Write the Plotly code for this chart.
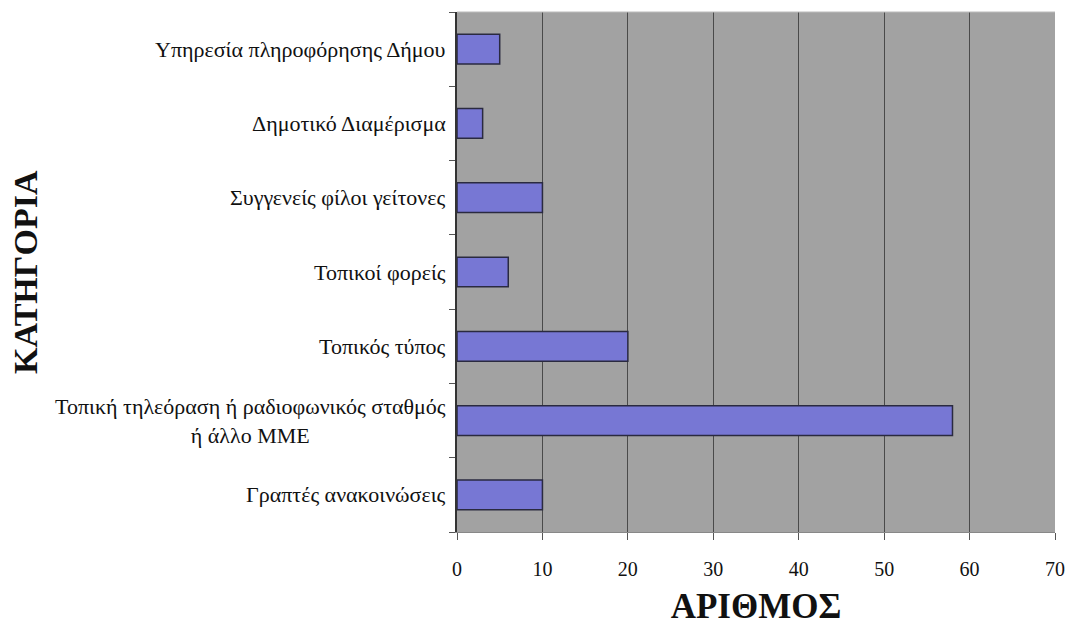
import plotly.graph_objects as go

categories = [
    "Γραπτές ανακοινώσεις",
    "Τοπική τηλεόραση ή ραδιοφωνικός σταθμός<br>ή άλλο ΜΜΕ",
    "Τοπικός τύπος",
    "Τοπικοί φορείς",
    "Συγγενείς φίλοι γείτονες",
    "Δημοτικό Διαμέρισμα",
    "Υπηρεσία πληροφόρησης Δήμου",
]
values = [10, 58, 20, 6, 10, 3, 5]
x_ticks = [0, 10, 20, 30, 40, 50, 60, 70]

FONT = "Liberation Serif, Times New Roman, serif"

fig = go.Figure()
fig.add_trace(go.Bar(
    y=categories, x=values, orientation="h",
    width=0.4,
    marker=dict(color="#7777d4", line=dict(color="#2a2a40", width=1.5)),
))

annotations = []
for c in categories:
    annotations.append(dict(
        x=0, xref="paper", y=c, yref="y", text=c, showarrow=False,
        xanchor="right", yanchor="middle", xshift=-9, align="center",
        font=dict(family=FONT, size=22, color="#111111"),
    ))
annotations.append(dict(
    x=0, xref="paper", y=0.5, yref="paper", text="<b>ΚΑΤΗΓΟΡΙΑ</b>",
    showarrow=False, textangle=-90, xanchor="center", yanchor="middle",
    xshift=-432, font=dict(family=FONT, size=34, color="#111111"),
))

fig.update_layout(
    width=1070, height=626,
    margin=dict(l=457, r=15, t=12, b=94),
    paper_bgcolor="white",
    plot_bgcolor="#a2a2a2",
    showlegend=False,
    font=dict(family=FONT, size=16, color="#111111"),
    annotations=annotations,
    xaxis=dict(
        range=[0, 70], tickvals=x_ticks, ticktext=[str(v) for v in x_ticks],
        showgrid=True, gridcolor="#4a4a4a", gridwidth=1,
        ticks="outside", ticklen=7, tickcolor="#555555",
        ticklabelstandoff=12,
        tickfont=dict(family=FONT, size=20, color="#111111"),
        showline=True, linecolor="#888888", mirror=False,
        zeroline=False, automargin=False,
        title=dict(text="<b>ΑΡΙΘΜΟΣ</b>", font=dict(family=FONT, size=35, color="#111111"), standoff=14),
    ),
    yaxis=dict(
        categoryorder="array", categoryarray=categories,
        showticklabels=False,
        ticks="outside", tickson="boundaries", ticklen=6, tickcolor="#555555",
        showline=True, linecolor="#333333", linewidth=1.5,
        showgrid=False, automargin=False,
    ),
)

fig.add_shape(type="line", xref="paper", yref="paper", x0=0, x1=1, y0=1, y1=1,
              line=dict(color="#bbbbbb", width=1))

fig.write_html(
    "out.html",
    config={"displayModeBar": False},
    post_script="document.body.style.margin='0';document.body.style.overflow='hidden';",
)
